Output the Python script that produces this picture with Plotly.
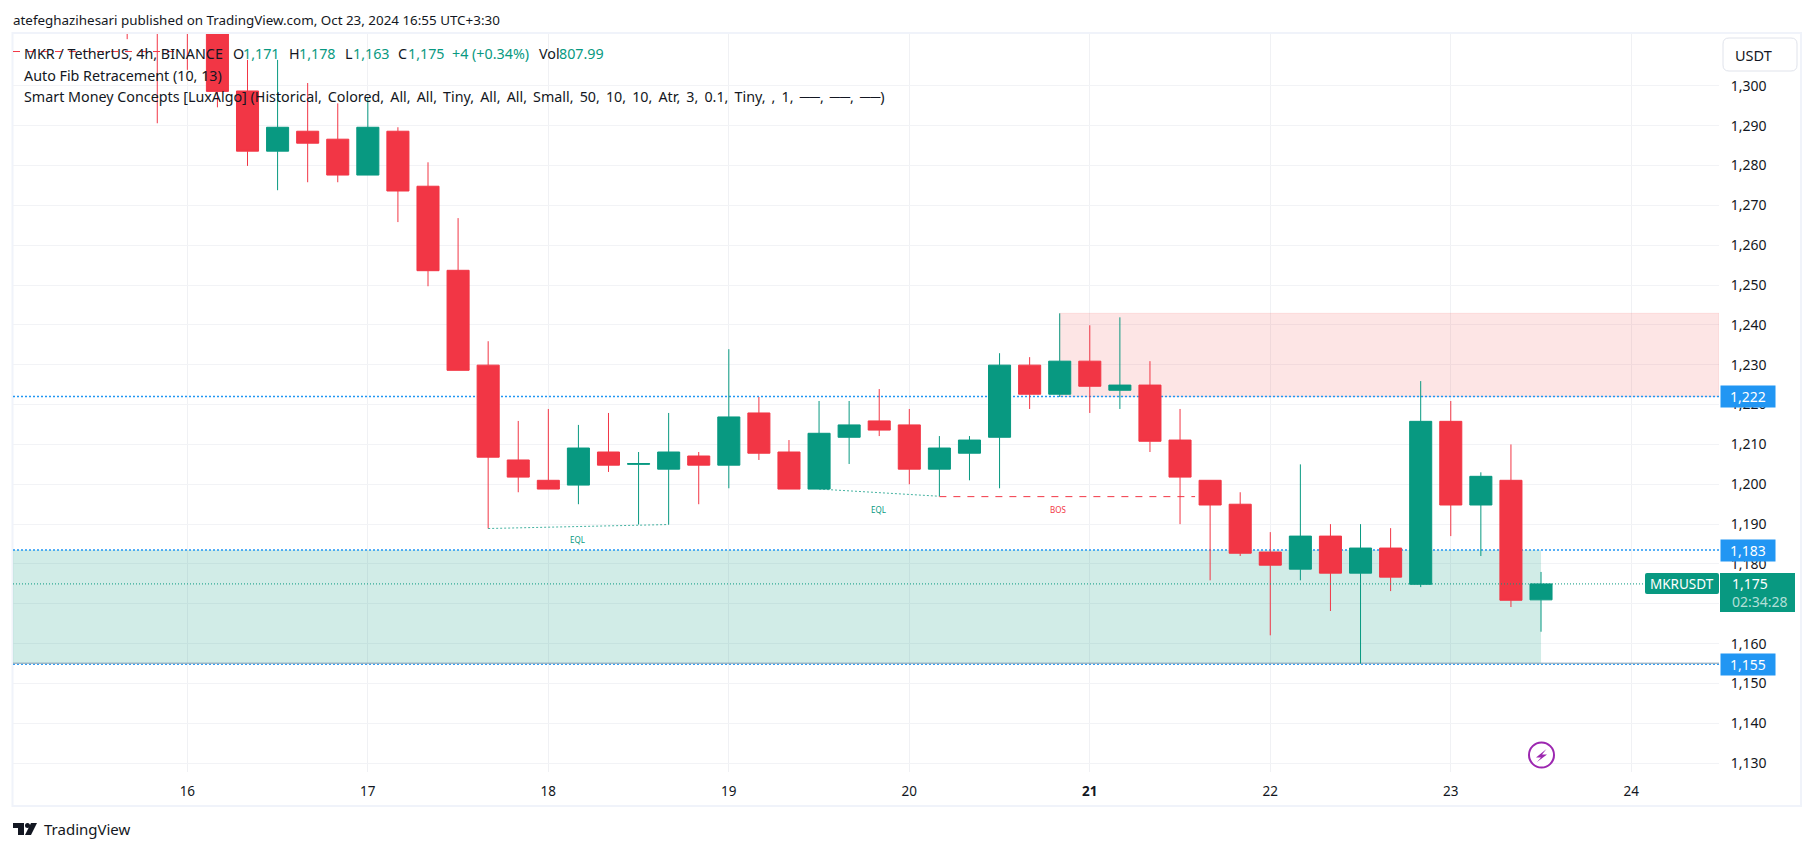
import pandas as pd
import plotly.graph_objects as go

W, H = 1814, 851
FONT = "Noto Sans"
GREEN = "#089981"
RED = "#f23645"
BLUE = "#2196f3"
TEXT = "#131722"

times = pd.date_range("2024-10-15 16:00", periods=48, freq="4h")
opens = [1330, 1325, 1322, 1316, 1298.7, 1283.6, 1288.6, 1286.6, 1277.6, 1288.6, 1274.8, 1253.7,
         1229.9, 1206.1, 1201, 1199.8, 1208.1, 1205, 1203.8, 1207.1, 1204.8, 1217.9, 1208.1, 1198.8,
         1211.8, 1215.9, 1214.9, 1203.8, 1207.8, 1211.8, 1229.9, 1222.6, 1230.9, 1223.6, 1224.9, 1211.1,
         1201, 1195, 1183, 1178.7, 1187, 1177.7, 1184, 1174.9, 1215.8, 1194.8, 1201, 1171]
highs = [1335, 1328, 1326, 1318, 1306.5, 1306.5, 1300.7, 1295.6, 1297.2, 1289.6, 1280.8, 1266.8,
         1235.9, 1215.9, 1218.9, 1214.9, 1217.9, 1208.1, 1217.9, 1208.1, 1233.9, 1221.9, 1211.1, 1220.9,
         1220.9, 1223.9, 1218.9, 1212.1, 1212.1, 1232.9, 1231.9, 1242.9, 1239.9, 1241.9, 1230.9, 1218.9,
         1201, 1198, 1188, 1205, 1190, 1190, 1189, 1225.9, 1220.9, 1203, 1210, 1178]
lows = [1311.7, 1290.6, 1304, 1294.6, 1279.9, 1273.8, 1275.8, 1275.8, 1277.6, 1265.8, 1249.7, 1228.6,
        1188.9, 1198, 1198.8, 1195, 1203.1, 1189.9, 1189.9, 1195, 1199, 1206.1, 1198.8, 1198.8,
        1205.1, 1212.1, 1200, 1197, 1201, 1199, 1218.9, 1221.9, 1217.9, 1218.9, 1208.1, 1190,
        1175.9, 1182, 1162.1, 1175.9, 1168.2, 1155, 1173.2, 1174.2, 1187, 1182, 1169.2, 1163]
closes = [1318, 1316, 1316, 1298.6, 1283.6, 1289.6, 1285.6, 1277.6, 1289.6, 1273.6, 1253.6, 1228.6,
          1206.8, 1201.8, 1198.8, 1209.1, 1204.8, 1205.2, 1208.1, 1204.8, 1216.9, 1207.8, 1198.8, 1212.8,
          1214.9, 1213.6, 1203.8, 1209.1, 1211.1, 1229.9, 1222.6, 1230.9, 1224.6, 1224.9, 1210.8, 1201.8,
          1194.8, 1182.7, 1179.7, 1187, 1177.7, 1184, 1176.7, 1215.8, 1194.8, 1202, 1170.9, 1175]

price_ticks = list(range(1130, 1310, 10))
price_labels = [f"{p:,}" for p in price_ticks]
day_ticks = [f"2024-10-{d}" for d in range(16, 25)]
day_labels = ["16", "17", "18", "19", "20", "<b>21</b>", "22", "23", "24"]

x_range = ["2024-10-15 00:49", "2024-10-24 11:40"]
y_range = [1127.8, 1313.0]

# structure lines picked up by the Smart Money Concepts indicator
eql1_x = ["2024-10-17 16:00", "2024-10-18 16:00"]
eql1_y = [1188.9, 1189.9]
eql2_x = ["2024-10-19 12:00", "2024-10-20 04:00"]
eql2_y = [1198.8, 1197.0]
bos_x = ["2024-10-20 04:00", "2024-10-21 14:00"]
bos_y = [1196.9, 1196.9]
old_bos_x = [x_range[0], "2024-10-15 23:00"]
old_bos_y = [1308.6, 1308.6]

fib_levels = [1222, 1183.5, 1154.8]
fib_labels = ["1,222", "1,183", "1,155"]


def px(x):
    return x / W


def py(y):
    return 1 - y / H


def rounded_rect(x0, y0, x1, y1, r):
    return (
        f"M {px(x0 + r)} {py(y0)} L {px(x1 - r)} {py(y0)} Q {px(x1)} {py(y0)} {px(x1)} {py(y0 + r)} "
        f"L {px(x1)} {py(y1 - r)} Q {px(x1)} {py(y1)} {px(x1 - r)} {py(y1)} "
        f"L {px(x0 + r)} {py(y1)} Q {px(x0)} {py(y1)} {px(x0)} {py(y1 - r)} "
        f"L {px(x0)} {py(y0 + r)} Q {px(x0)} {py(y0)} {px(x0 + r)} {py(y0)} Z"
    )


def polygon(points):
    return "M " + " L ".join(f"{px(x)} {py(y)}" for x, y in points) + " Z"


fig = go.Figure()

fig.add_trace(
    go.Candlestick(
        x=times,
        open=opens,
        high=highs,
        low=lows,
        close=closes,
        increasing=dict(line=dict(color=GREEN, width=1), fillcolor=GREEN),
        decreasing=dict(line=dict(color=RED, width=1), fillcolor=RED),
        whiskerwidth=0,
        showlegend=False,
    )
)

for xs, ys, color, dash in [
    (eql1_x, eql1_y, "rgba(8,153,129,0.75)", "2px,2px"),
    (eql2_x, eql2_y, "rgba(8,153,129,0.75)", "2px,2px"),
    (bos_x, bos_y, RED, "7px,7px"),
    (old_bos_x, old_bos_y, RED, "7px,7px"),
]:
    fig.add_trace(
        go.Scatter(
            x=xs, y=ys, mode="lines", line=dict(color=color, width=1, dash=dash),
            hoverinfo="skip", showlegend=False,
        )
    )

# supply and demand zones
fig.add_shape(
    type="rect", x0="2024-10-20 20:00", x1=x_range[1], y0=1222, y1=1242.9, layer="between",
    fillcolor="rgba(239,83,80,0.15)", line=dict(color="rgba(239,83,80,0.12)", width=1),
)
fig.add_shape(
    type="rect", x0=x_range[0], x1="2024-10-23 12:00", y0=1155.1, y1=1183.5, layer="between",
    fillcolor="rgba(8,153,129,0.19)", line=dict(width=0),
)
fig.add_shape(
    type="line", x0=x_range[0], x1=x_range[1], y0=1155.1, y1=1155.1, layer="between",
    line=dict(color="#7d99ad", width=1),
)
for level in fib_levels:
    fig.add_shape(
        type="line", x0=x_range[0], x1=x_range[1], y0=level, y1=level, layer="between",
        line=dict(color=BLUE, width=1.5 if level > 1160 else 1, dash="2px,2px"),
    )
# last price line
fig.add_shape(
    type="line", x0=x_range[0], x1="2024-10-24 01:50", y0=closes[-1], y1=closes[-1], layer="above",
    line=dict(color=GREEN, width=1, dash="1px,2px"),
)

# chart frame, currency button, last price box, event icon, logo
fig.add_shape(
    type="rect", xref="paper", yref="paper", x0=px(12.5), x1=px(1801), y0=py(806), y1=py(33),
    line=dict(color="#f0f3fa", width=2), layer="below",
)
fig.add_shape(
    type="path", xref="paper", yref="paper", path=rounded_rect(1723, 38, 1797, 71, 6),
    fillcolor="white", line=dict(color="#e0e3eb", width=1), layer="above",
)
fig.add_shape(
    type="rect", xref="paper", yref="paper", x0=px(1720), x1=px(1795), y0=py(612), y1=py(573),
    fillcolor=GREEN, line=dict(width=0), layer="above",
)
fig.add_shape(
    type="path", xref="paper", yref="paper", path=rounded_rect(1645, 573, 1719, 594, 2),
    fillcolor=GREEN, line=dict(width=0), layer="above",
)
fig.add_shape(
    type="circle", xref="paper", yref="paper", x0=px(1529), x1=px(1554), y0=py(767.5), y1=py(742.5),
    fillcolor="white", line=dict(color="#9c27b0", width=2), layer="above",
)
fig.add_shape(
    type="path", xref="paper", yref="paper",
    path=polygon([(1546.5, 749), (1536, 757.5), (1541, 757.5), (1537, 762), (1547, 754.5), (1542, 754.5)]),
    fillcolor="#9c27b0", line=dict(width=0), layer="above",
)
fig.add_shape(
    type="path", xref="paper", yref="paper",
    path=polygon([(13, 823), (24, 823), (24, 835), (18, 835), (18, 828), (13, 828)]),
    fillcolor=TEXT, line=dict(width=0), layer="above",
)
fig.add_shape(
    type="circle", xref="paper", yref="paper", x0=px(25), x1=px(30), y0=py(828), y1=py(823),
    fillcolor=TEXT, line=dict(width=0), layer="above",
)
fig.add_shape(
    type="path", xref="paper", yref="paper",
    path=polygon([(31, 823), (37, 823), (31, 835), (25, 835)]),
    fillcolor=TEXT, line=dict(width=0), layer="above",
)


def label(text, x, y, size=13, color=TEXT, anchor="left"):
    fig.add_annotation(
        text=text, xref="paper", yref="paper", x=px(x), y=py(y), xanchor=anchor, yanchor="middle",
        showarrow=False, borderpad=0, font=dict(family=FONT, size=size, color=color),
    )


label("atefeghazihesari published on TradingView.com, Oct 23, 2024 16:55 UTC+3:30", 12, 20, size=13.4)

label("MKR / TetherUS, 4h, BINANCE", 23, 54, size=14.3)
for name, value, x_name, x_value in [
    ("O", "1,171", 232, 242),
    ("H", "1,178", 288, 298),
    ("L", "1,163", 344, 352),
    ("C", "1,175", 397, 407),
    ("Vol", "807.99", 538, 558),
]:
    label(name, x_name, 54, size=14.3)
    label(value, x_value, 54, size=14.3, color=GREEN)
label("+4 (+0.34%)", 451, 54, size=14.3, color=GREEN)
label("Auto Fib Retracement (10, 13)", 23, 75, size=14.3)
# thin spaces after the commas, the original font sets them wider
label(
    "Smart Money Concepts [LuxAlgo] (Historical, Colored, All, All, Tiny, All, All, Small, "
    "50, 10, 10, Atr, 3, 0.1, Tiny, , 1, ──, ──, ──)".replace(", ", ",\u2009 "),
    23, 96, size=14.3,
)

label("EQL", 577, 539, size=8, color=GREEN, anchor="center")
label("EQL", 878, 510, size=8, color=GREEN, anchor="center")
label("BOS", 1058, 510, size=8, color=RED, anchor="center")

label("USDT", 1753, 55, size=14.5, anchor="center")
label("TradingView", 43, 829, size=15)

for level, text in zip(fib_levels, fib_labels):
    fig.add_annotation(
        text=text, xref="paper", yref="y", x=px(1720), y=level, xanchor="left", yanchor="middle",
        width=54, height=21, bgcolor=BLUE, showarrow=False, borderpad=0,
        font=dict(family=FONT, size=14, color="white"),
    )

label("MKRUSDT", 1682, 583.5, size=13.5, color="white", anchor="center")
label("1,175", 1731, 583.5, size=14, color="white")
label("02:34:28", 1731, 601, size=14, color="rgba(255,255,255,0.7)")

fig.update_layout(
    width=W,
    height=H,
    margin=dict(l=0, r=0, t=0, b=0),
    paper_bgcolor="white",
    plot_bgcolor="white",
    font=dict(family=FONT, size=13, color=TEXT),
    boxgap=0.267,
    boxgroupgap=0,
    xaxis=dict(
        domain=[px(13), px(1719)],
        range=x_range,
        rangeslider=dict(visible=False),
        tickmode="array",
        tickvals=day_ticks,
        ticktext=day_labels,
        tickfont=dict(size=13.5),
        ticks="outside",
        ticklen=7,
        tickcolor="white",
        gridcolor="#f0f1f4",
        showline=False,
        zeroline=False,
    ),
    yaxis=dict(
        domain=[py(772), py(34)],
        range=y_range,
        side="right",
        tickmode="array",
        tickvals=price_ticks,
        ticktext=price_labels,
        tickfont=dict(size=14),
        ticks="outside",
        ticklen=8,
        tickcolor="white",
        gridcolor="#f2f3f6",
        showline=False,
        zeroline=False,
    ),
)

fig.write_html(
    "out.html",
    config=dict(displayModeBar=False),
    post_script="document.body.style.margin = '0';",
)
